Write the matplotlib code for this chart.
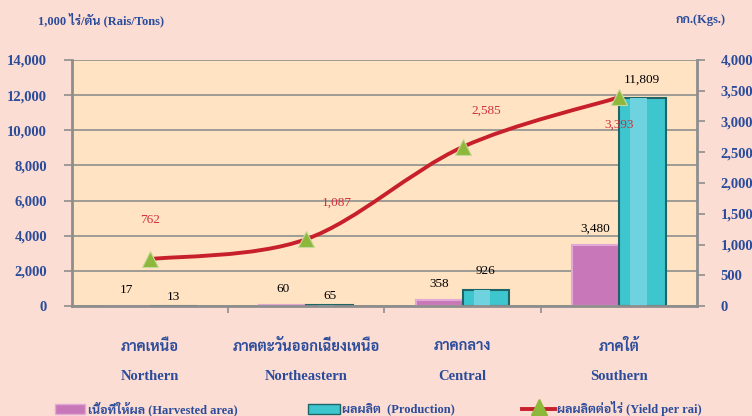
import matplotlib.pyplot as plt
from matplotlib.path import Path
from matplotlib.patches import PathPatch, Rectangle
from matplotlib.lines import Line2D
import numpy as np

# Data for the chart
regions_th = ["ภาคเหนือ", "ภาคตะวันออกเฉียงเหนือ", "ภาคกลาง", "ภาคใต้"]
regions_en = ["Northern", "Northeastern", "Central", "Southern"]
harvested = [17, 60, 358, 3480]        # 1,000 rai
production = [13, 65, 926, 11809]      # tons
yield_rai = [762, 1087, 2585, 3393]    # kg per rai

# label offsets for the yield values (points)
yield_offsets = [(0, 28), (22, 26), (17, 26), (0, -20)]

plt.rcParams['font.family'] = ['Liberation Serif', 'Sarabun', 'FreeSerif', 'DejaVu Sans']
blue = '#2B4C9B'
pink = '#C878B8'
teal = '#3EC6CF'

fig = plt.figure(figsize=(7.52, 4.16), dpi=100)
fig.patch.set_facecolor('#FCDDD4')
ax = fig.add_axes([0.0957, 0.2644, 0.831, 0.5914])
ax.set_facecolor('#FFE3C3')

x = np.arange(len(regions_en))
w = 0.3
bars1 = ax.bar(x - w / 2, harvested, w, color=pink, edgecolor='#E3A9D6', linewidth=1.5, zorder=2)
bars2 = ax.bar(x + w / 2, production, w, color=teal, edgecolor='#1F6466', linewidth=1.5, zorder=2)
# lighter strip inside the cylinders
ax.bar(x + w / 2 - w * 0.08, production, w * 0.35, color='#6ED3DE', linewidth=0, zorder=2)

ax.set_xlim(-0.5, 3.5)
ax.set_ylim(0, 14000)
ax.set_yticks(range(0, 14001, 2000))
ax.set_yticklabels([f'{v:,}' for v in range(0, 14001, 2000)])
ax.set_xticks([0.5, 1.5, 2.5])
ax.set_xticklabels([])
ax.grid(axis='y', color='#8E8E8E', linewidth=1.2, zorder=0)
ax.set_axisbelow(True)
for s in ['left', 'bottom']:
    ax.spines[s].set_color('#8E8E8E')
    ax.spines[s].set_linewidth(2)
ax.spines['top'].set_visible(False)
ax.spines['right'].set_visible(False)
ax.tick_params(axis='y', colors='#8E8E8E', labelcolor=blue, labelsize=10.5, length=6, width=1.2, pad=12)
ax.tick_params(axis='x', colors='#8E8E8E', length=5, width=1.2)
for t in ax.get_yticklabels():
    t.set_fontweight('bold')

for b, v in zip(bars1, harvested):
    ax.annotate(f'{v:,}', (b.get_x() + b.get_width() / 2, v), xytext=(0, 7),
                textcoords='offset points', ha='center', va='bottom', fontsize=9.5)
for b, v in zip(bars2, production):
    ax.annotate(f'{v:,}', (b.get_x() + b.get_width() / 2, v), xytext=(0, 2 if v < 200 else 9),
                textcoords='offset points', ha='center', va='bottom', fontsize=9.5)

# yield line on the right axis
ax2 = ax.twinx()
ax2.set_ylim(0, 4000)
ax2.set_yticks(range(0, 4001, 500))
ax2.set_yticklabels([f'{v:,}' for v in range(0, 4001, 500)])
ax2.tick_params(axis='y', colors='#8E8E8E', labelcolor=blue, labelsize=10.5, length=6, width=1.2, pad=11)
for t in ax2.get_yticklabels():
    t.set_fontweight('bold')
for s in ['left', 'top', 'bottom']:
    ax2.spines[s].set_visible(False)
ax2.spines['right'].set_color('#8E8E8E')
ax2.spines['right'].set_linewidth(2)

# smoothed line (Catmull-Rom as cubic Bezier)
pts = np.column_stack([x, yield_rai]).astype(float)
ext = np.vstack([pts[0], pts, pts[-1]])
verts = [tuple(pts[0])]
codes = [Path.MOVETO]
for i in range(len(pts) - 1):
    p0, p1, p2, p3 = ext[i], ext[i + 1], ext[i + 2], ext[i + 3]
    verts += [tuple(p1 + (p2 - p0) / 6), tuple(p2 - (p3 - p1) / 6), tuple(p2)]
    codes += [Path.CURVE4] * 3
ax2.add_patch(PathPatch(Path(verts, codes), facecolor='none', edgecolor='#C8202A', linewidth=2.8, zorder=3))
ax2.plot(x, yield_rai, linestyle='none', marker='^', markersize=11, color='#8DB83C',
         markeredgecolor='#C8D89A', markeredgewidth=0.8, zorder=4)
for xi, v, off in zip(x, yield_rai, yield_offsets):
    ax2.annotate(f'{v:,}', (xi, v), xytext=off, textcoords='offset points',
                 ha='center', va='center', fontsize=9.5, color='#D0303A')

# category labels
for xi, th, en in zip(x, regions_th, regions_en):
    ax.text(xi, -0.165, th, transform=ax.get_xaxis_transform(), ha='center', va='center',
            fontsize=10.5, color=blue, fontweight='bold')
    ax.text(xi, -0.285, en, transform=ax.get_xaxis_transform(), ha='center', va='center',
            fontsize=10.5, color=blue, fontweight='bold')

# axis titles
fig.text(38 / 752, 1 - 20 / 416, '1,000 ไร่/ตัน (Rais/Tons)', ha='left', va='center',
         fontsize=9, color=blue, fontweight='bold')
fig.text(726 / 752, 1 - 20 / 416, 'กก.(Kgs.)', ha='right', va='center',
         fontsize=9, color=blue, fontweight='bold')

# legend drawn by hand
ly = 1 - 409 / 416
fig.patches.append(Rectangle((55 / 752, ly - 0.012), 30 / 752, 0.024, transform=fig.transFigure,
                             facecolor=pink, edgecolor='#E3A9D6', linewidth=1))
fig.text(88 / 752, ly, 'เนื้อที่ให้ผล (Harvested area)', ha='left', va='center',
         fontsize=9, color=blue, fontweight='bold')
fig.patches.append(Rectangle((308 / 752, ly - 0.012), 32 / 752, 0.024, transform=fig.transFigure,
                             facecolor=teal, edgecolor='#1F6466', linewidth=1))
fig.text(342 / 752, ly, 'ผลผลิต  (Production)', ha='left', va='center',
         fontsize=9, color=blue, fontweight='bold')
fig.lines.append(Line2D([522 / 752, 555 / 752], [ly, ly], transform=fig.transFigure,
                        color='#C8202A', linewidth=2.8))
fig.lines.append(Line2D([538.5 / 752], [ly + 0.004], transform=fig.transFigure, marker='^',
                        markersize=11, color='#8DB83C', linestyle='none'))
fig.text(557 / 752, ly, 'ผลผลิตต่อไร่ (Yield per rai)', ha='left', va='center',
         fontsize=9, color=blue, fontweight='bold')

fig.savefig('out.png', dpi=100, facecolor=fig.get_facecolor())
